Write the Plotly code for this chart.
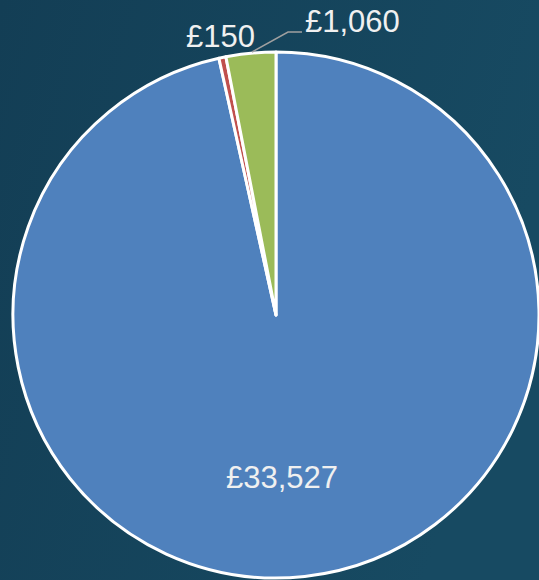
import base64
import plotly.graph_objects as go

categories = ["A", "B", "C"]
values = [33527, 150, 1060]
colors = ["#4F81BD", "#C0504D", "#9BBB59"]

W, H = 539, 580
cx, cy, r = 276, 315, 263

def px(x):
    return x / W

def py(y):
    return 1 - y / H

fig = go.Figure(go.Pie(
    labels=categories,
    values=values,
    sort=False,
    direction="clockwise",
    rotation=0,
    marker=dict(colors=colors, line=dict(color="white", width=3)),
    textinfo="none",
    showlegend=False,
    hoverinfo="skip",
    domain=dict(x=[(cx - r) / W, (cx + r) / W], y=[(H - cy - r) / H, (H - cy + r) / H]),
))

labels_txt = [f"£{v:,}" for v in values]
label_pos = [(282, 477), (220, 36), (352, 21)]
font = dict(family="Liberation Sans, Arial", size=31, color="#f0f0f0")
for t, (x, y) in zip(labels_txt, label_pos):
    fig.add_annotation(x=px(x), y=py(y), xref="paper", yref="paper", text=t,
                       showarrow=False, xanchor="center", yanchor="middle", font=font)

# leader line for small slice
fig.add_shape(type="path", xref="paper", yref="paper",
              path=f"M {px(252)} {py(52)} L {px(288)} {py(32)} L {px(302)} {py(32)}",
              line=dict(color="#a0a0a0", width=1.5))

svg = (f'<svg xmlns="http://www.w3.org/2000/svg" width="{W}" height="{H}">'
       '<defs><linearGradient id="g" x1="0" y1="0" x2="1" y2="0.3">'
       '<stop offset="0" stop-color="#133e55"/><stop offset="1" stop-color="#174a62"/>'
       '</linearGradient></defs><rect width="100%" height="100%" fill="url(#g)"/></svg>')
src = "data:image/svg+xml;base64," + base64.b64encode(svg.encode()).decode()
fig.add_layout_image(source=src, xref="paper", yref="paper", x=0, y=1, sizex=1, sizey=1,
                     xanchor="left", yanchor="top", sizing="stretch", layer="below")

fig.update_layout(
    width=W, height=H,
    margin=dict(l=0, r=0, t=0, b=0),
    paper_bgcolor="#144259",
    plot_bgcolor="rgba(0,0,0,0)",
)
fig.write_html("out.html")
